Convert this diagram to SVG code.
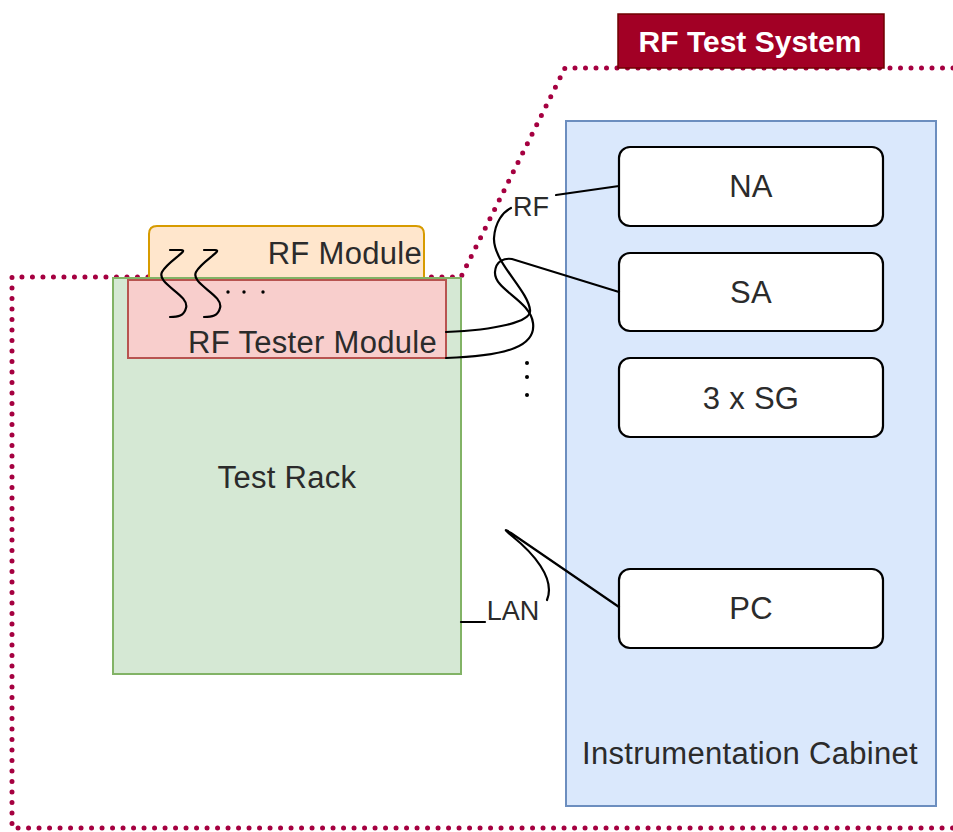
<svg xmlns="http://www.w3.org/2000/svg" width="953" height="832" viewBox="0 0 953 832">
  <style>
    .lbl { font-family: "Liberation Sans", Arial, sans-serif; font-size: 31px; letter-spacing: 0.3px; fill: #2b2b2b; }
    .edge-lbl { font-family: "Liberation Sans", Arial, sans-serif; font-size: 27px; fill: #2b2b2b; }
    .inst { fill: #ffffff; stroke: #000; stroke-width: 2.2; }
    .wire { fill: none; stroke: #000; stroke-width: 2.2; stroke-linecap: round; }
    .boundary { fill: none; stroke: #a50040; stroke-width: 5; stroke-dasharray: 0 10.5; stroke-linecap: round; }
  </style>

  <!-- system boundary -->
  <path class="boundary" d="M 953 68 L 565 68 L 461 277 L 12 277 L 12 828 L 953 828"/>

  <g id="title">
    <rect x="618" y="14" width="266" height="54" fill="#a20025" stroke="#6f0000" stroke-width="1.5"/>
    <text x="750" y="52" text-anchor="middle" font-family="Liberation Sans, Arial, sans-serif" font-size="30" font-weight="bold" fill="#ffffff">RF Test System</text>
  </g>

  <g id="test-rack">
    <rect x="113" y="278" width="348" height="396" fill="#d5e8d4" stroke="#82b366" stroke-width="2"/>
    <text class="lbl" x="287" y="488" text-anchor="middle">Test Rack</text>
  </g>

  <g id="rf-module">
    <path d="M 149 277 L 149 234 Q 149 226 157 226 L 416 226 Q 424 226 424 234 L 424 277" fill="#ffe6cc" stroke="#d79b00" stroke-width="2"/>
    <text class="lbl" x="422" y="264" text-anchor="end">RF Module</text>
  </g>

  <g id="rf-tester-module">
    <rect x="128" y="280" width="318" height="78" fill="#f8cecc" stroke="#b85450" stroke-width="2"/>
    <text class="lbl" x="437" y="353" text-anchor="end">RF Tester Module</text>
  </g>

  <g id="instrumentation-cabinet">
    <rect x="566" y="121" width="370" height="685" fill="#dae8fc" stroke="#6c8ebf" stroke-width="2"/>
    <text class="lbl" x="750" y="764" text-anchor="middle">Instrumentation Cabinet</text>
  </g>

  <g id="na">
    <rect class="inst" x="619" y="147" width="264" height="79" rx="11"/>
    <text class="lbl" x="751" y="197" text-anchor="middle">NA</text>
  </g>
  <g id="sa">
    <rect class="inst" x="619" y="253" width="264" height="78" rx="11"/>
    <text class="lbl" x="751" y="303" text-anchor="middle">SA</text>
  </g>
  <g id="sg">
    <rect class="inst" x="619" y="358" width="264" height="79" rx="11"/>
    <text class="lbl" x="751" y="409" text-anchor="middle">3 x SG</text>
  </g>
  <g id="pc">
    <rect class="inst" x="619" y="569" width="264" height="79" rx="11"/>
    <text class="lbl" x="751" y="619" text-anchor="middle">PC</text>
  </g>

  <g id="connectors">
    <!-- coax cables inside the RF module -->
    <path class="wire" d="M 170 250 L 181 250 C 190 250, 168 261, 162 272 C 156 284, 190 295, 186 308 C 184 316, 178 317, 170 317"/>
    <path class="wire" d="M 204 250 L 215 250 C 224 250, 202 261, 196 272 C 190 284, 224 295, 220 308 C 218 316, 212 317, 204 317"/>
    <circle cx="228" cy="292" r="1.7" fill="#000"/>
    <circle cx="244" cy="292" r="1.7" fill="#000"/>
    <circle cx="263" cy="292" r="1.7" fill="#000"/>

    <!-- RF cable to NA -->
    <path class="wire" d="M 446 332 C 495 330, 532 322, 530 310 C 528 290, 493 262, 494 238 C 495 222, 503 212, 511 208"/>
    <path class="wire" d="M 556 195 L 619 186"/>
    <text class="edge-lbl" x="531" y="216" text-anchor="middle">RF</text>

    <!-- RF cable to SA -->
    <path class="wire" d="M 446 358 C 510 356, 536 345, 533 323 C 530 300, 494 290, 495 272 C 496 260, 505 258, 512 259 L 619 292"/>

    <!-- further RF cables -->
    <circle cx="527" cy="363" r="2" fill="#000"/>
    <circle cx="527" cy="377" r="2" fill="#000"/>
    <circle cx="527" cy="395" r="2" fill="#000"/>

    <!-- LAN cable to PC -->
    <path class="wire" d="M 619 607 L 511 533 C 503 528, 505 530, 512 536 C 532 552, 556 578, 547 600"/>
    <path class="wire" d="M 461 622 L 485 622"/>
    <text class="edge-lbl" x="513" y="620" text-anchor="middle">LAN</text>
  </g>
</svg>
